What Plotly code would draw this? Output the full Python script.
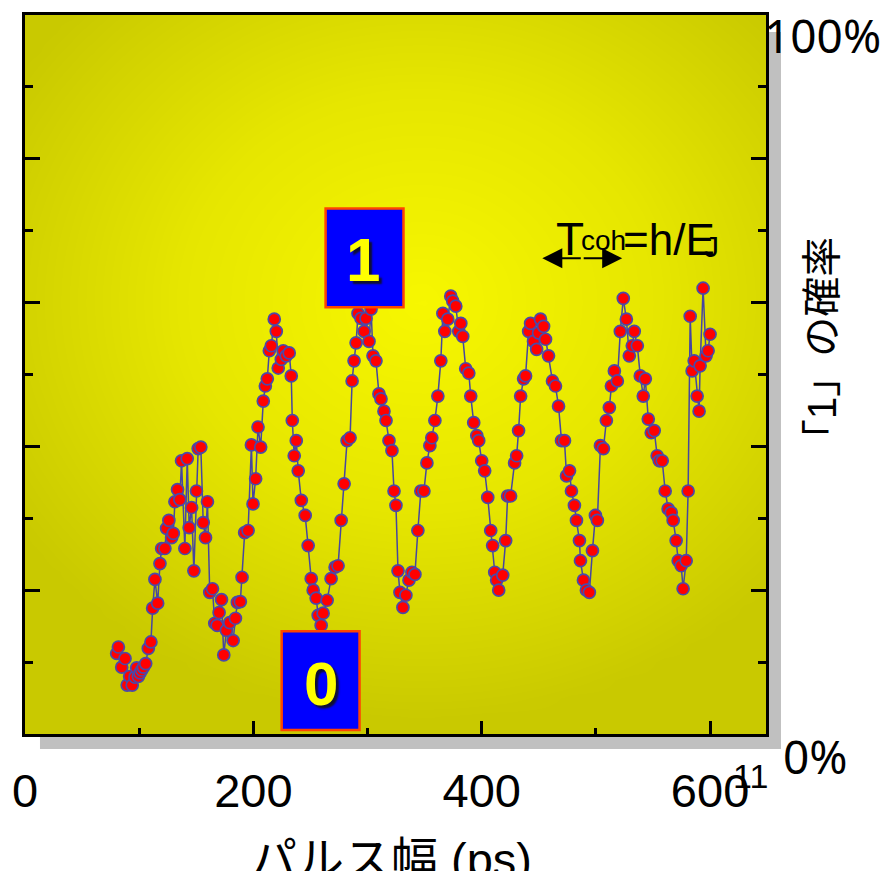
import numpy as np
import plotly.graph_objects as go

# ---------------- data ----------------
pulse_ps = [
    80.3, 81.8, 84.7, 87.6, 89.5, 91.7, 93.9, 96.3, 97.8, 99.3,
    100.7, 102.2, 103.7, 105.7, 108.0, 110.3, 111.8, 113.8, 116.2, 118.2,
    119.7, 122.5, 124.0, 126.0, 128.4, 129.9, 131.3, 133.6, 135.6, 137.1,
    140.0, 142.1, 143.8, 145.9, 147.9, 150.2, 151.7, 154.0, 156.1, 158.1,
    159.8, 161.8, 164.2, 166.2, 168.3, 170.0, 172.1, 174.1, 176.4, 179.3,
    182.3, 184.3, 186.0, 188.6, 190.1, 192.4, 195.4, 198.3, 199.7, 202.0,
    204.1, 206.4,
    208.7, 210.5, 212.2, 214.0, 215.7, 218.3, 220.1, 221.8, 224.5, 226.2,
    228.8, 231.4, 233.2, 234.1, 235.8, 237.6, 239.3, 242.0, 245.4, 248.0,
    250.7, 252.4, 255.0, 256.8, 259.4, 261.1, 264.6, 268.1, 271.6, 274.2,
    276.9, 279.5, 282.1, 284.7, 286.5, 288.2, 290.0, 291.7, 294.3, 297.0,
    298.7, 301.3, 303.1, 304.8, 307.4, 310.0, 311.8, 314.4, 316.2, 318.8,
    321.4, 323.2, 324.9, 326.7, 328.4, 331.0, 333.6, 336.3, 338.9, 341.5,
    344.1, 346.7, 349.4, 352.0, 354.6, 356.3, 359.0, 361.6, 364.2, 366.0,
    367.7, 370.3, 372.9, 374.7, 377.3, 379.9, 381.7, 383.4, 386.0, 388.7,
    390.4, 393.0, 395.7, 397.4, 400.0, 402.6, 405.3, 407.9, 409.6, 411.4,
    413.1, 414.9, 418.4, 421.0, 422.7, 425.3, 428.8, 430.6, 432.3, 434.1,
    436.7, 438.4, 441.1, 442.8, 445.4, 448.1, 449.8, 451.5, 454.2, 455.9,
    458.5, 462.0, 464.6, 467.3, 469.9, 472.5, 474.3, 476.9, 478.6, 481.2,
    483.0, 485.6, 486.5, 489.1, 491.7, 494.3, 497.0, 499.6, 501.3, 504.0,
    506.6, 509.2, 511.8, 513.6, 516.2, 518.8, 521.4, 524.0, 526.7, 529.3,
    531.9, 533.6, 536.3, 538.9, 541.5, 543.3, 545.9, 548.5, 551.1, 553.7,
    555.5, 558.1, 560.7, 563.3, 566.0, 567.7, 570.3, 572.1, 574.7, 576.4,
    579.1, 580.8, 582.6, 584.3, 586.1, 588.7, 590.4, 591.3, 593.9, 596.5,
    598.3, 600.0,
]
prob_pct = [
    11.2, 12.1, 9.3, 10.5, 6.8, 8.0, 6.8, 7.9, 9.2, 8.0,
    8.5, 8.9, 9.3, 9.8, 11.9, 12.8, 17.5, 21.5, 18.2, 23.7,
    25.8, 25.8, 28.6, 29.7, 27.3, 27.9, 32.3, 34.0, 32.6, 38.0,
    25.8, 38.3, 28.7, 31.5, 22.7, 33.8, 39.7, 39.9, 29.4, 27.3,
    32.3, 19.7, 20.2, 15.4, 15.1, 16.9, 18.7, 11.0, 14.4, 15.5,
    13.0, 16.1, 18.3, 18.4, 21.8, 28.0, 28.3, 40.2, 32.0, 35.5,
    42.7, 39.9,
    46.3, 48.4, 49.4, 53.3, 54.0, 57.7, 56.0, 50.9, 52.1, 53.3,
    52.6, 53.0, 49.8, 43.6, 38.7, 40.8, 36.6, 32.5, 30.4, 26.2,
    21.6, 20.0, 18.9, 16.5, 15.1, 16.8, 18.6, 21.6, 23.2, 23.4,
    29.7, 34.8, 40.8, 41.2, 49.1, 51.9, 54.4, 58.5, 57.8, 56.0,
    57.8, 54.6, 59.1, 52.6, 51.9, 47.3, 46.6, 44.9, 43.6, 40.8,
    39.4, 33.8, 31.8, 22.7, 19.7, 17.6, 19.3, 21.4, 22.5, 22.2,
    28.3, 33.8, 33.8, 37.7, 40.1, 41.2, 43.6, 47.0, 51.9, 58.5,
    56.0, 57.7, 60.9, 60.2, 59.5, 56.0, 57.1, 55.3, 50.8, 50.2,
    47.0, 43.3, 41.5, 40.8, 38.0, 36.6, 32.9, 28.3, 26.2, 22.5,
    21.4, 20.0, 22.1, 26.9, 33.1, 33.1, 37.7, 38.7, 42.2, 47.0,
    49.4, 49.8, 56.0, 57.1, 54.6, 53.5, 55.8, 57.7, 56.7, 54.9,
    52.6, 49.1, 48.4, 45.6, 40.8, 40.8, 35.9, 36.6, 33.8, 31.8,
    29.7, 26.9, 24.1, 21.4, 20.0, 19.7, 25.5, 30.4, 29.7, 40.1,
    39.7, 43.6, 45.4, 48.4, 50.5, 49.1, 56.0, 60.6, 57.7, 52.6,
    54.0, 56.0, 54.0, 49.8, 47.0, 49.4, 43.8, 41.9, 42.2, 38.7,
    38.0, 38.0, 33.8, 31.3, 30.8, 29.7, 26.9, 24.1, 23.4, 20.2,
    24.1, 33.8, 58.1, 50.5, 51.9, 47.0, 44.9, 51.2, 62.0, 52.6,
    53.3, 55.6,
]

x_tick_vals = [0, 200, 400, 600]
x_tick_text = ["0", "200", "400", "600"]
x_minor_vals = [100, 300, 500]

x_title = "パルス幅 (ps)"
y_title = "「1」の確率"
label_top = "100%"
label_bottom = "0%"
state_one = "1"
state_zero = "0"

# ---------------- layout geometry ----------------
W, H = 886, 871
ML, MR, MT, MB = 24, 120, 13, 137
PW = W - ML - MR
PH = H - MT - MB
X_RANGE = [0, 649]
Y_RANGE = [0, 100]


def px(xp):
    return (xp - ML) / PW


def py(yp):
    return (H - MB - yp) / PH


# ---------------- background gradient (style only) ----------------
gx = np.linspace(-20, 670, 70)
gy = np.linspace(-5, 105, 45)
GX, GY = np.meshgrid(gx, gy)
PXG = ML + (GX - X_RANGE[0]) / (X_RANGE[1] - X_RANGE[0]) * PW
PYG = MT + (Y_RANGE[1] - GY) / (Y_RANGE[1] - Y_RANGE[0]) * PH
tg = np.clip(np.sqrt(((PXG - 420) / 480) ** 2 + ((PYG - 300) / 420) ** 2), 0, 1)

fig = go.Figure()
fig.add_trace(go.Heatmap(
    x=gx, y=gy, z=tg, zmin=0, zmax=1, zsmooth="best",
    colorscale=[[0, "#f7f700"], [0.5, "#e6e600"], [1, "#c9c900"]],
    showscale=False, hoverinfo="skip",
))
fig.add_trace(go.Scatter(
    x=pulse_ps, y=prob_pct, mode="lines+markers",
    line=dict(color="#4646a0", width=1.5),
    marker=dict(size=12, color="#ff0000", line=dict(color="#4a4aa8", width=1.7)),
    hoverinfo="skip",
))

tickfont = dict(family="Liberation Sans, Arial, sans-serif", size=47, color="black")

fig.update_layout(
    width=W, height=H,
    margin=dict(l=ML, r=MR, t=MT, b=MB, pad=0),
    paper_bgcolor="white",
    plot_bgcolor="#cccc00",
    showlegend=False,
    xaxis=dict(
        range=X_RANGE, showgrid=False, zeroline=False,
        showline=True, linewidth=3, linecolor="black", mirror=True,
        ticks="inside", tickmode="array", tickvals=x_tick_vals, ticktext=x_tick_text,
        ticklen=13, tickwidth=3, tickcolor="black",
        minor=dict(tickmode="array", tickvals=x_minor_vals, ticks="inside",
                   ticklen=6, tickwidth=3, tickcolor="black"),
        tickfont=tickfont, ticklabelstandoff=14,
    ),
    yaxis=dict(
        range=Y_RANGE, showgrid=False, zeroline=False,
        showline=True, linewidth=3, linecolor="black", mirror="allticks",
        ticks="inside", tick0=0, dtick=20, ticklen=15, tickwidth=3, tickcolor="black",
        minor=dict(tick0=0, dtick=10, ticks="inside", ticklen=8, tickwidth=3,
                   tickcolor="black"),
        showticklabels=False,
    ),
)

shapes = [
    # drop shadow of the plot frame
    dict(type="rect", xref="paper", yref="paper",
         x0=px(39), x1=px(781), y0=py(749), y1=py(30),
         fillcolor="#c0c0c0", line=dict(width=0), layer="below"),
    # state boxes
    dict(type="rect", xref="paper", yref="paper",
         x0=px(325), x1=px(403), y0=py(306), y1=py(207),
         fillcolor="#0000ff", line=dict(color="#ff4400", width=2.5), layer="above"),
    dict(type="rect", xref="paper", yref="paper",
         x0=px(281), x1=px(359), y0=py(730), y1=py(631),
         fillcolor="#0000ff", line=dict(color="#ff4400", width=2.5), layer="above"),
]
fig.update_layout(shapes=shapes)

big_bold = dict(family="Liberation Sans, Arial, sans-serif", size=62, color="#ffff00",
                weight="bold", shadow="3px 3px 2px #101030")
pct_font = dict(family="Noto Sans, sans-serif", size=46, color="black")
lat = "Liberation Sans, Arial, sans-serif"

ann = [
    dict(text=state_one, x=px(362), y=py(258), font=big_bold),
    dict(text=state_zero, x=px(320), y=py(683), font=big_bold),
    dict(text=label_top, x=px(762), y=py(33), xanchor="left", font=pct_font),
    dict(text=label_bottom, x=px(781), y=py(756), xanchor="left", font=pct_font),
    dict(text="11", x=px(750), y=py(776), font=dict(family=lat, size=34, color="black")),
    dict(text=x_title, x=px(390), y=py(831), yanchor="top",
         font=dict(family="Liberation Sans, Noto Sans CJK JP, sans-serif", size=47, color="black")),
    dict(text=y_title, x=px(822), y=py(347), textangle=-90,
         font=dict(family="Liberation Sans, Noto Sans CJK JP, sans-serif", size=40, color="black")),
    # T_coh = h / E_J
    dict(text="T", x=px(554), y=py(238), xanchor="left",
         font=dict(family=lat, size=46, color="black")),
    dict(text="coh", x=px(579), y=py(239), xanchor="left",
         font=dict(family=lat, size=28, color="black")),
    dict(text="=h/E", x=px(621), y=py(238), xanchor="left",
         font=dict(family=lat, size=44, color="black")),
    dict(text="J", x=px(702), y=py(245), xanchor="left",
         font=dict(family=lat, size=30, color="black")),
    # double-headed arrow
    dict(text="", x=px(542), y=py(257), ax=40, ay=0, showarrow=True,
         arrowhead=2, arrowsize=2, arrowwidth=2, arrowcolor="black"),
    dict(text="", x=px(622), y=py(257), ax=-40, ay=0, showarrow=True,
         arrowhead=2, arrowsize=2, arrowwidth=2, arrowcolor="black"),
]
for a in ann:
    a.setdefault("xref", "paper")
    a.setdefault("yref", "paper")
    a.setdefault("showarrow", False)
    a.setdefault("xanchor", "center")
    a.setdefault("yanchor", "middle")
fig.update_layout(annotations=ann)

fig.write_html("out.html")
